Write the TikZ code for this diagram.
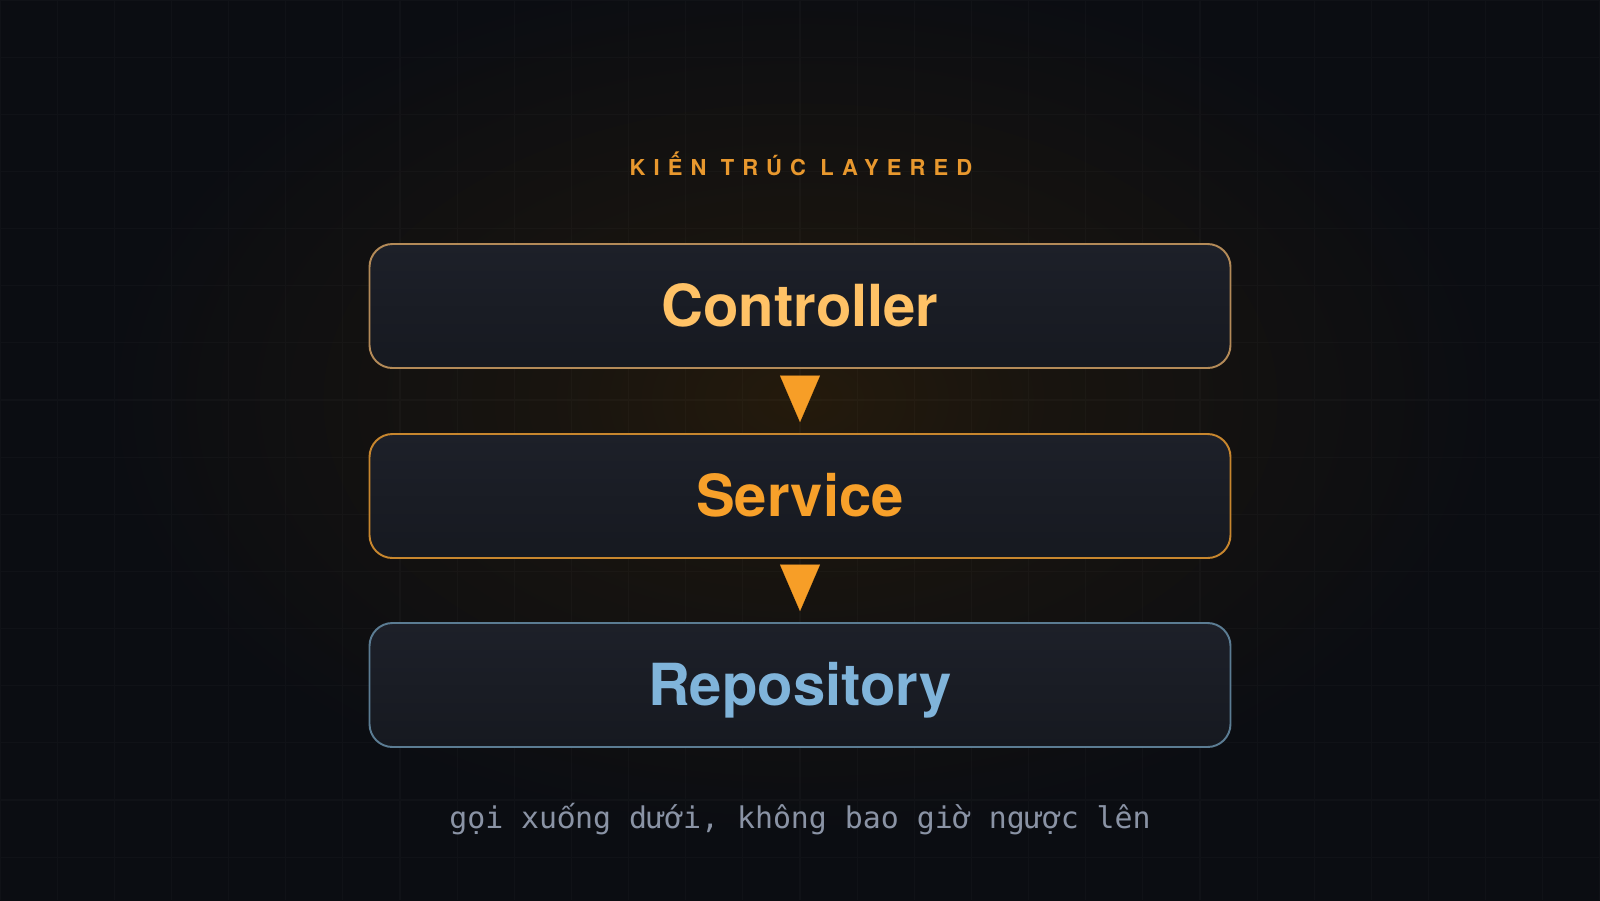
\documentclass[tikz,border=0pt]{standalone}
\usepackage{fontspec}
\setmainfont{TeX Gyre Heros}
\newfontfamily\codefont{DejaVu Sans Mono}
\newfontfamily\codefallback{DejaVu Sans}
\usetikzlibrary{arrows.meta}

\definecolor{bgc}{HTML}{0B0D12}
\definecolor{glowc}{HTML}{241A0C}
\definecolor{glowmid}{HTML}{18140F}
\definecolor{boxtop}{HTML}{1D2029}
\definecolor{boxbot}{HTML}{161920}
\definecolor{ctrlline}{HTML}{B38A58}
\definecolor{ctrltext}{HTML}{FFC266}
\definecolor{servline}{HTML}{C7862E}
\definecolor{servtext}{HTML}{F7A02A}
\definecolor{repoline}{HTML}{5B7C93}
\definecolor{repotext}{HTML}{80B4DA}
\definecolor{arrowc}{HTML}{F79E27}
\definecolor{titlec}{HTML}{E8982E}
\definecolor{notec}{HTML}{8A93A5}

\pgfdeclareradialshading{glow}{\pgfpoint{0bp}{0bp}}{color(0bp)=(glowc);
  color(8bp)=(glowmid); color(22bp)=(bgc); color(50bp)=(bgc)}

% mono letter that DejaVu Sans Mono lacks
\newcommand{\monofix}[1]{\makebox[0.602em]{\codefallback #1}}

\begin{document}
\begin{tikzpicture}[
    layer/.style={rounded corners=0.46cm, line width=1.1pt, inner sep=0pt,
      minimum width=17.22cm, minimum height=2.48cm,
      top color=boxtop, bottom color=boxbot,
      font=\fontsize{33}{36}\selectfont\bfseries,
      text height=23.8pt, text depth=0pt},
    flow/.style={-{Triangle[length=0.93cm, width=0.8cm]}, arrowc,
      line width=0.1pt, shorten <=0.16cm, shorten >=0.22cm}
  ]
    \useasboundingbox (0,0) rectangle (32,-18);
    \fill[bgc] (-0.2,0.2) rectangle (32.2,-18.2);
    \begin{scope}
      \clip (0,0) rectangle (32,-18);
      \shade[shading=glow] (16,-8.0) ellipse [x radius=15.9cm, y radius=9.9cm];
      \draw[white, opacity=0.025, line width=0.6pt, step=1.142857]
        (0,-18) grid (32,0);
    \end{scope}

    \node[titlec, anchor=base, font=\fontsize{12.5}{14}\selectfont\bfseries
      \addfontfeature{LetterSpace=37}] (T) at (16.02,-3.5) {KIẾN TRÚC LAYERED};

    \node[layer, draw=ctrlline, text=ctrltext] (C) at (16,-6.12) {Controller};
    \node[layer, draw=servline, text=servtext] (S) at (16,-9.92) {Service};
    \node[layer, draw=repoline, text=repotext] (R) at (16,-13.70) {Repository};

    \draw[flow] (C) -- (S);
    \draw[flow] (S) -- (R);

    \node[notec, anchor=base, font=\codefont\fontsize{17}{20}\selectfont]
      (N) at (16,-16.56) {gọi xu\monofix{ố}ng dưới, không bao giờ ngược lên};
  \end{tikzpicture}
\end{document}
